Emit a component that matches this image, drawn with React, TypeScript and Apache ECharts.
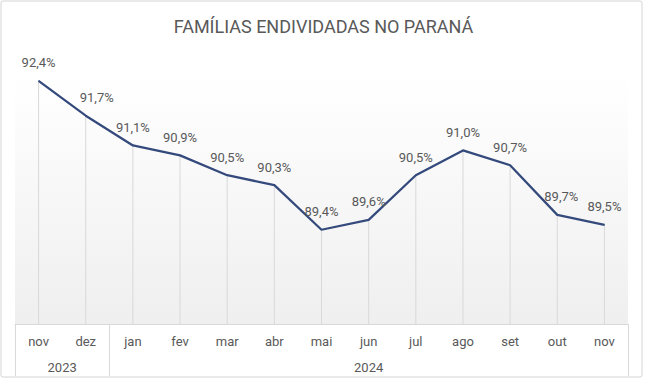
import React, { useEffect, useRef } from "react";
import * as echarts from "echarts";

// ---- Data ----
const MONTHS = ["nov", "dez", "jan", "fev", "mar", "abr", "mai", "jun", "jul", "ago", "set", "out", "nov"];
const VALUES = [92.4, 91.7, 91.1, 90.9, 90.5, 90.3, 89.4, 89.6, 90.5, 91.0, 90.7, 89.7, 89.5];
const YEARS = ["2023", "2024"];
const YEAR_COUNTS = [2, 11];
const TITLE = "FAMÍLIAS ENDIVIDADAS NO PARANÁ";

// ---- Style (label horizontal nudges, px) ----
const LABEL_DX = [0, 11, 0, 0, 0, 0, 0, 0, 0, 0, 0, 4, 0];

const TEXT = "#595959";
const LINE = "#354a7c";
const FONT = "Roboto, 'Noto Sans', sans-serif";

export default function App() {
  const ref = useRef<HTMLDivElement>(null);

  useEffect(() => {
    if (!ref.current) return;
    const chart = echarts.init(ref.current, undefined, { renderer: "svg" });

    // year axis built in half-category units
    const totalHalf = MONTHS.length * 2;
    const yearCats: string[] = new Array(totalHalf + 1).fill("");
    const boundaries: number[] = [0];
    let start = 0;
    YEARS.forEach((y, i) => {
      const c = YEAR_COUNTS[i];
      yearCats[start * 2 + c] = y;
      start += c;
      boundaries.push(start * 2);
    });

    const fmt = (v: number) => v.toFixed(1).replace(".", ",") + "%";
    const labelBase = {
      show: true,
      position: "top",
      distance: 11,
      color: TEXT,
      fontSize: 13,
      fontFamily: FONT,
      formatter: (p: any) => fmt(Number(p.value)),
    };

    chart.setOption({
      animation: false,
      textStyle: { fontFamily: FONT },
      title: {
        text: TITLE,
        left: "center",
        top: 12,
        textStyle: { fontSize: 18, fontWeight: "normal", color: TEXT, fontFamily: FONT },
      },
      graphic: [
        {
          type: "rect",
          shape: { x: 1, y: 1, width: 641, height: 376, r: 2 },
          style: { fill: "none", stroke: "#d4d4d4", lineWidth: 1 },
          silent: true,
          z: 0,
        },
      ],
      grid: {
        left: 15,
        right: 19,
        top: 76,
        bottom: 55,
        show: true,
        borderWidth: 0,
        backgroundColor: new echarts.graphic.LinearGradient(0, 0, 0, 1, [
          { offset: 0, color: "#ffffff" },
          { offset: 1, color: "#efefef" },
        ]),
      },
      xAxis: [
        {
          type: "category",
          data: MONTHS,
          position: "bottom",
          boundaryGap: true,
          axisLine: { show: true, lineStyle: { color: "#d9d9d9", width: 1 } },
          axisTick: { show: false },
          axisLabel: { color: TEXT, fontSize: 13, margin: 11, interval: 0, fontFamily: FONT },
          splitLine: { show: false },
        },
        {
          type: "category",
          data: yearCats,
          position: "bottom",
          offset: 0,
          boundaryGap: false,
          axisLine: { show: false },
          axisTick: {
            show: true,
            inside: false,
            length: 52,
            interval: (index: number) => boundaries.includes(index),
            lineStyle: { color: "#d9d9d9", width: 1 },
          },
          axisLabel: { color: TEXT, fontSize: 13, margin: 37, interval: 0, fontFamily: FONT },
          splitLine: { show: false },
        },
      ],
      yAxis: {
        type: "value",
        min: 87.5,
        max: 92.5,
        show: false,
      },
      series: [
        {
          type: "bar",
          data: VALUES,
          xAxisIndex: 0,
          barWidth: 1,
          itemStyle: { color: "#d9d9d9" },
          silent: true,
          z: 1,
        },
        {
          type: "line",
          xAxisIndex: 0,
          data: VALUES.map((v, i) => ({
            value: v,
            label: { ...labelBase, offset: [LABEL_DX[i], 0] },
          })),
          symbol: "circle",
          symbolSize: 1,
          showSymbol: true,
          itemStyle: { color: LINE },
          lineStyle: { color: LINE, width: 2.25 },
          z: 3,
          label: labelBase,
        },
      ],
    });

    return () => chart.dispose();
  }, []);

  return (
    <div
      ref={ref}
      style={{ position: "fixed", left: 0, top: 0, width: 647, height: 379, background: "#ffffff" }}
    />
  );
}
